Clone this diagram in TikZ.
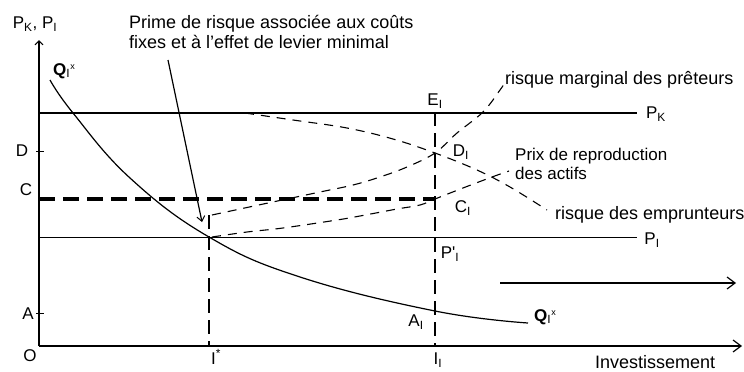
\documentclass[tikz,border=0pt]{standalone}
\usepackage{fontspec}
\setmainfont{Liberation Sans}
\usetikzlibrary{arrows.meta}
\begin{document}
\begin{tikzpicture}[x=1pt,y=-1pt,
  lbl/.style={inner sep=0pt,font=\fontsize{17}{19}\selectfont},
  txt/.style={inner sep=0pt,anchor=base west,font=\fontsize{18}{20}\selectfont,align=left},
  txtsm/.style={inner sep=0pt,anchor=base west,font=\fontsize{17}{19}\selectfont,align=left},
  axis/.style={line width=1.6pt},
  dsh/.style={line width=1.1pt,dash pattern=on 9pt off 7pt},
  vdash/.style={line width=1.2pt,dash pattern=on 14pt off 7pt},
  thickdash/.style={line width=3.8pt,dash pattern=on 16pt off 8pt},
  curve/.style={line width=1.2pt},
  openarrow/.style={-{Straight Barb[length=8pt,width=12pt,line width=1.2pt]}}
]
\useasboundingbox (0,0) rectangle (744,372);
\fill[white] (0,0) rectangle (744,372);

% key points
\coordinate (O) at (39,346);
\coordinate (Ytop) at (39,40);
\coordinate (Xend) at (742,346);
\coordinate (PKa) at (39,113);
\coordinate (PKb) at (637,113);
\coordinate (PIa) at (39,237);
\coordinate (PIb) at (637,237);
\coordinate (Ca) at (39,199);
\coordinate (CI) at (435,199);
\coordinate (DI) at (435,153);
\coordinate (AI) at (435,311);
\coordinate (EItop) at (435,112);
\coordinate (II) at (435,346);
\coordinate (Istar) at (209,237);
\coordinate (IstarTop) at (209,215);
\coordinate (IstarX) at (209,346);
\coordinate (Dt1) at (36,151);
\coordinate (Dt2) at (44,151);
\coordinate (At1) at (36,313);
\coordinate (At2) at (44,313);
\coordinate (ArA) at (500,283);
\coordinate (ArB) at (736,283);
\coordinate (PrA) at (168,60);
\coordinate (PrB) at (202,222);

% axes
\draw[axis,-{Straight Barb[length=4pt,width=8pt,line width=1.1pt]}] (O) -- (Ytop);
\draw[axis,openarrow] (O) -- (Xend);
\draw[line width=1pt] (Dt1) -- (Dt2);
\draw[line width=1pt] (At1) -- (At2);

% horizontal lines
\draw[line width=2.6pt] (PKa) -- (PKb);
\draw[line width=1pt] (PIa) -- (PIb);
\draw[thickdash] (Ca) -- (CI);

% vertical dashed lines
\draw[vdash] (IstarTop) -- (IstarX);
\draw[vdash] (EItop) -- (II);

% Q curve
\draw[curve] plot[smooth,tension=0.7] coordinates {(50,80) (73,113) (130,178) (Istar) (300,277) (AI) (528,323)};

% risque des emprunteurs
\draw[dsh] plot[smooth,tension=0.6] coordinates {(245,113) (293,120) (347,128) (393,139) (DI) (477,170) (510,187) (547,210)};

% risque marginal des preteurs
\draw[dsh] plot[smooth,tension=0.6] coordinates {(212,215) (240,209) (268,203) (320,192) (353,185) (380,177) (407,167) (DI) (457,133) (483,112) (500,90) (506,81)};

% prix de reproduction des actifs
\draw[dsh] plot[smooth,tension=0.6] coordinates {(212,237) (247,232) (283,228) (337,220) (360,216) (397,209) (420,205) (CI) (463,188) (492,177) (509,171)};

% arrow from "Prime de risque"
\draw[line width=1.2pt,-{Straight Barb[length=5pt,width=8pt,line width=1pt]}] (PrA) -- (PrB);
% right arrow
\draw[line width=1.2pt,openarrow] (ArA) -- (ArB);

% labels
\node[lbl] (lPK) at (35,24) {P\textsubscript{K}, P\textsubscript{I}};
\node[lbl] (lD) at (22,151) {D};
\node[lbl] (lC) at (26,190) {C};
\node[lbl] (lA) at (28,314) {A};
\node[lbl] (lO) at (30,356) {O};
\node[lbl] (lIs) at (216,357) {I\textsuperscript{*}};
\node[lbl] (lII) at (438,360) {I\textsubscript{I}};
\node[txt] (lInv) at (595,368) {Investissement};
\node[lbl] (lQ1) at (64,71) {\textbf{Q}\textsubscript{I}\raisebox{0.6ex}{\fontsize{9}{9}\selectfont x}};
\node[lbl] (lQ2) at (545,317) {\textbf{Q}\textsubscript{I}\raisebox{0.6ex}{\fontsize{9}{9}\selectfont x}};
\node[lbl] (lAI) at (416,322) {A\textsubscript{I}};
\node[lbl] (lPI2) at (450,254) {P\textquotesingle\textsubscript{I}};
\node[lbl] (lCI) at (463,208) {C\textsubscript{I}};
\node[lbl] (lDI) at (461,152) {D\textsubscript{I}};
\node[lbl] (lEI) at (435,101) {E\textsubscript{I}};
\node[lbl] (lPKr) at (656,114) {P\textsubscript{K}};
\node[lbl] (lPIr) at (652,240) {P\textsubscript{I}};
\node[txt] (tPrime) at (129,48) {Prime de risque associée aux coûts\\fixes et à l'effet de levier minimal};
\node[txt] (tMarg) at (505,84) {risque marginal des prêteurs};
\node[txtsm] (tPrix) at (515,179) {Prix de reproduction\\des actifs};
\node[txt] (tEmp) at (555,219) {risque des emprunteurs};
\end{tikzpicture}
\end{document}
